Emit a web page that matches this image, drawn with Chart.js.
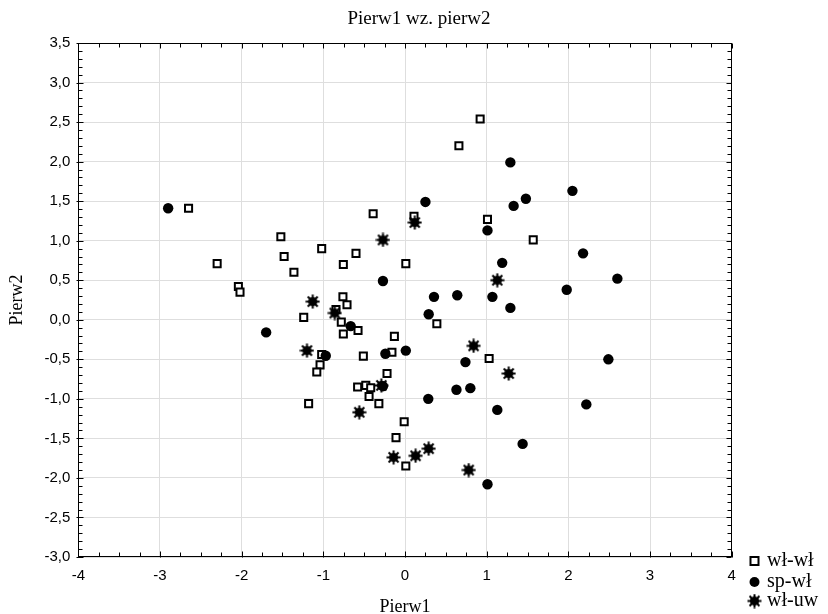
<!DOCTYPE html>
<html>
<head>
<meta charset="utf-8">
<script src="https://cdn.jsdelivr.net/npm/chart.js@4/dist/chart.umd.min.js"></script>
<style>
  html, body { margin: 0; padding: 0; background: #fff; }
  #wrap { width: 828px; height: 614px; }
</style>
</head>
<body>
<div id="wrap"><canvas id="chart" width="828" height="614"></canvas></div>
<script>
// series labels
const seriesNames = ["wł-wł", "sp-wł", "wł-uw"];

// wł-wł (squares)
const wwX = [-2.65, -0.39, 0.11, -1.52, -1.02, -1.48, -0.60, -0.755, 0.01, -2.30,
             -1.36, -2.04, -2.02, -0.76, -0.71, -0.845, -1.24, -0.78, -0.575, -0.755,
             -0.13, 0.39, -0.16, -1.02, -1.04, -1.08, -0.51, -0.22, -0.58, -0.48,
             -0.42, -0.44, -0.32, -1.18, -0.01, -0.11, 0.01, 0.92, 0.66, 1.01,
             1.57, 1.03];
const wwY = [1.41, 1.34, 1.31, 1.05, 0.90, 0.80, 0.84, 0.70, 0.71, 0.71,
             0.60, 0.42, 0.35, 0.29, 0.19, 0.13, 0.03, -0.03, -0.135, -0.18,
             -0.21, -0.05, -0.41, -0.44, -0.57, -0.66, -0.46, -0.68, -0.85, -0.83,
             -0.86, -0.97, -1.06, -1.06, -1.29, -1.49, -1.85, 2.54, 2.20, 1.27,
             1.01, -0.49];

// sp-wł (filled circles)
const spX = [-2.90, -0.27, -0.665, -1.70, 0.355, 0.64, 0.29, 0.01, -0.24, -0.97,
             -0.27, 0.285, 0.63, 0.80, 1.29, 2.05, 0.25, 1.48, 1.33, 1.01,
             2.18, 1.19, 2.60, 1.98, 1.07, 1.29, 0.74, 2.49, 1.13, 2.22,
             1.44, 1.01];
const spY = [1.41, 0.49, -0.08, -0.16, 0.29, 0.31, 0.07, -0.39, -0.43, -0.455,
             -0.84, -1.00, -0.885, -0.865, 1.99, 1.63, 1.49, 1.53, 1.44, 1.13,
             0.84, 0.72, 0.52, 0.38, 0.29, 0.15, -0.535, -0.50, -1.14, -1.07,
             -1.57, -2.08];

// wł-uw (asterisks)
const uwX = [0.12, -0.27, -1.13, -0.86, -1.20, -0.29, -0.56, -0.14, 0.13, 0.29,
             1.13, 0.84, 1.27, 0.78];
const uwY = [1.23, 1.01, 0.23, 0.085, -0.39, -0.83, -1.17, -1.74, -1.72, -1.63,
             0.50, -0.33, -0.68, -1.90];

// axis ticks
const xTicks = [-4, -3, -2, -1, 0, 1, 2, 3, 4];
const yTicks = [-3.0, -2.5, -2.0, -1.5, -1.0, -0.5, 0.0, 0.5, 1.0, 1.5, 2.0, 2.5, 3.0, 3.5];

function toPoints(xs, ys) {
    return xs.map((x, i) => ({ x: x, y: ys[i] }));
}

// asterisk marker like the Statistica one
function makeStar() {
    const c = document.createElement('canvas');
    c.width = 15; c.height = 15;
    const g = c.getContext('2d');
    g.translate(7.5, 7.5);
    g.strokeStyle = '#000';
    g.lineWidth = 2;
    for (let k = 0; k < 8; k++) {
        const a = k * Math.PI / 4;
        g.beginPath();
        g.moveTo(0, 0);
        g.lineTo(Math.cos(a) * 7, Math.sin(a) * 7);
        g.stroke();
    }
    g.fillStyle = '#000';
    g.beginPath();
    g.arc(0, 0, 4.6, 0, Math.PI * 2);
    g.fill();
    return c;
}
const starImg = makeStar();

const serif = "'Liberation Serif', 'Times New Roman', serif";
const sans = "'Liberation Sans', Arial, sans-serif";

const area = { left: 78.3, right: 731.7, top: 43, bottom: 557 };

// frame with inward major / minor ticks on all four sides
const framePlugin = {
    id: 'frame',
    beforeDatasetsDraw(chart) {
        const ctx = chart.ctx;
        const ca = chart.chartArea;
        const xs = chart.scales.x, ys = chart.scales.y;
        const L = Math.round(ca.left) + 0.5, R = Math.round(ca.right) - 0.5;
        const T = Math.round(ca.top) + 0.5, B = Math.round(ca.bottom) - 0.5;
        ctx.save();
        ctx.strokeStyle = '#000';
        ctx.lineWidth = 1;
        ctx.beginPath();
        for (let v = -4; v <= 4.001; v += 0.25) {
            const px = Math.round(xs.getPixelForValue(v)) + 0.5;
            const major = Math.abs(v - Math.round(v)) < 1e-6;
            const len = major ? 5 : 4;
            ctx.moveTo(px, B + (major ? 1 : 0)); ctx.lineTo(px, B - len);
            ctx.moveTo(px, T); ctx.lineTo(px, T + len);
        }
        for (let i = -30; i <= 35; i++) {
            const v = i / 10;
            const py = Math.round(ys.getPixelForValue(v)) + 0.5;
            const major = i % 5 === 0;
            const len = major ? 5 : 4;
            ctx.moveTo(L - (major ? 2 : 0), py); ctx.lineTo(L + len, py);
            ctx.moveTo(R, py); ctx.lineTo(R - len, py);
        }
        ctx.stroke();
        ctx.strokeRect(L, T, R - L, B - T);
        ctx.restore();
    },
    afterDraw(chart) {
        const ctx = chart.ctx;
        ctx.save();
        // chart title
        ctx.fillStyle = '#000';
        ctx.font = '19px ' + serif;
        ctx.textAlign = 'center';
        ctx.textBaseline = 'middle';
        ctx.fillText('Pierw1 wz. pierw2', 419, 19);
        // legend
        const rows = [561, 582, 601];
        const mx = 754.5;
        ctx.textAlign = 'left';
        ctx.font = '20px ' + serif;
        chart.data.datasets.forEach((ds, i) => {
            const y = rows[i];
            if (i === 0) {
                ctx.fillStyle = '#fff';
                ctx.fillRect(mx - 4, y - 4, 8, 8);
                ctx.lineWidth = 2;
                ctx.strokeStyle = '#000';
                ctx.strokeRect(mx - 4, y - 4, 8, 8);
            } else if (i === 1) {
                ctx.fillStyle = '#000';
                ctx.beginPath();
                ctx.arc(mx, y, 5, 0, Math.PI * 2);
                ctx.fill();
            } else {
                ctx.drawImage(starImg, mx - 7.5, y - 7.5);
            }
            ctx.fillStyle = '#000';
            ctx.fillText(ds.label, 767, y);
        });
        ctx.restore();
    }
};

new Chart(document.getElementById('chart'), {
    type: 'scatter',
    data: {
        datasets: [{
            label: seriesNames[0],
            data: toPoints(wwX, wwY),
            pointStyle: 'rect',
            radius: 5,
            borderWidth: 2,
            borderColor: '#000',
            backgroundColor: '#fff',
            order: 2
        }, {
            label: seriesNames[1],
            data: toPoints(spX, spY),
            pointStyle: 'circle',
            radius: 5.2,
            borderWidth: 0,
            backgroundColor: '#000',
            order: 1
        }, {
            label: seriesNames[2],
            data: toPoints(uwX, uwY),
            pointStyle: starImg,
            radius: 7,
            order: 0
        }]
    },
    options: {
        responsive: false,
        animation: false,
        layout: { padding: { left: 0, right: 828 - area.right, top: area.top, bottom: 0 } },
        plugins: {
            legend: { display: false },
            title: { display: false },
            tooltip: { enabled: false }
        },
        scales: {
            x: {
                type: 'linear',
                min: -4, max: 4,
                afterBuildTicks: (s) => { s.ticks = xTicks.map(v => ({ value: v })); },
                afterFit: (s) => { s.height = 614 - area.bottom; },
                grid: { color: '#dedede', lineWidth: 1, drawTicks: false },
                border: { display: false },
                ticks: { color: '#000', padding: 10, font: { family: sans, size: 15 } },
                title: {
                    display: true, text: 'Pierw1', color: '#000',
                    font: { family: serif, size: 18, lineHeight: 0.8 },
                    padding: { top: 0, bottom: 0 }
                }
            },
            y: {
                type: 'linear',
                min: -3, max: 3.5,
                afterBuildTicks: (s) => { s.ticks = yTicks.map(v => ({ value: v })); },
                afterFit: (s) => { s.width = area.left; },
                grid: { color: '#dedede', lineWidth: 1, drawTicks: false },
                border: { display: false },
                ticks: {
                    color: '#000', padding: 8, font: { family: sans, size: 15 },
                    callback: (v) => v.toFixed(1).replace('.', ',')
                },
                title: {
                    display: true, text: 'Pierw2', color: '#000',
                    font: { family: serif, size: 18, lineHeight: 1.2 },
                    padding: { top: 6, bottom: 0 }
                }
            }
        }
    },
    plugins: [framePlugin]
});
</script>
</body>
</html>
